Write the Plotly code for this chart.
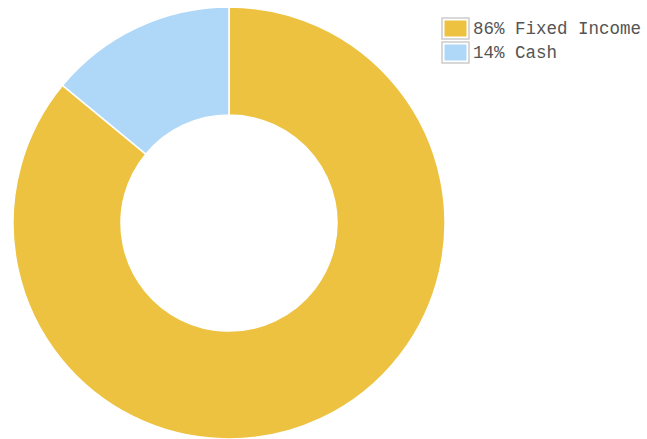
import plotly.graph_objects as go

labels = ["86% Fixed Income", "14% Cash"]
values = [86, 14]
colors = ["#EDC240", "#AFD8F8"]

W, H = 647, 439
cx, cy, r = 229, 223, 216

fig = go.Figure(go.Pie(
    labels=labels,
    values=values,
    hole=0.5,
    sort=False,
    direction="clockwise",
    rotation=0,
    marker=dict(colors=colors, line=dict(color="#ffffff", width=1.5)),
    textinfo="none",
    hoverinfo="label",
    showlegend=False,
    domain=dict(x=[(cx - r) / W, (cx + r) / W], y=[(H - cy - r) / H, (H - cy + r) / H]),
))

# Manual legend (flot style)
row_top = 18
row_h = 24
for i, (lab, col) in enumerate(zip(labels, colors)):
    y0 = row_top + i * row_h
    fig.add_shape(type="rect", xref="paper", yref="paper",
                  x0=442 / W, x1=469 / W, y0=1 - y0 / H, y1=1 - (y0 + 21) / H,
                  line=dict(color="#cccccc", width=1.5), fillcolor="white", layer="above")
    fig.add_shape(type="rect", xref="paper", yref="paper",
                  x0=444.5 / W, x1=466.5 / W, y0=1 - (y0 + 2.5) / H, y1=1 - (y0 + 18.5) / H,
                  line=dict(width=0), fillcolor=col, layer="above")
    fig.add_annotation(text=lab, xref="paper", yref="paper",
                       x=471 / W, xanchor="left", y=1 - (y0 + 11) / H, yanchor="middle",
                       showarrow=False,
                       font=dict(family="Liberation Mono, Courier New, monospace", size=17.5, color="#545454"))

fig.update_layout(
    width=W, height=H,
    margin=dict(l=0, r=0, t=0, b=0),
    paper_bgcolor="white",
    plot_bgcolor="white",
    showlegend=False,
)

fig.write_html("out.html")
